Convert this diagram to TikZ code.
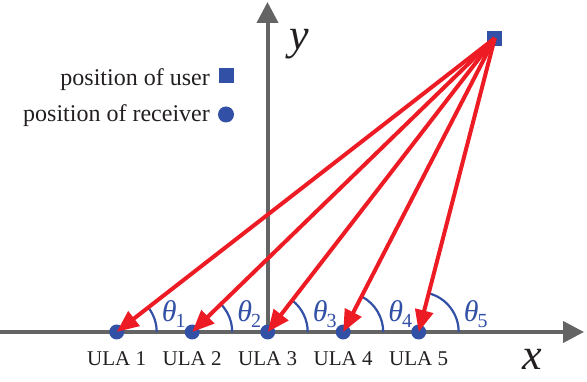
\documentclass[tikz,border=0pt]{standalone}
\usepackage{fontspec}
\setmainfont{Liberation Serif}
\usetikzlibrary{arrows.meta,calc}
\definecolor{ublue}{RGB}{50,80,165}
\definecolor{ured}{RGB}{237,28,36}
\definecolor{agray}{RGB}{100,100,100}
\definecolor{tblack}{RGB}{35,31,32}
\newcommand{\thlab}[1]{\fontsize{30}{30}\selectfont\itshape θ\kern-1pt\raisebox{-6pt}{\fontsize{20}{20}\selectfont\upshape #1}}
\tikzset{
  axis/.style={draw=agray,line width=4pt,-{Triangle[length=21pt,width=21pt]}},
  ray/.style={draw=ured,line width=4pt,-{Triangle[length=22pt,width=18pt]}},
  rcv/.style={circle,fill=ublue,inner sep=0pt,minimum size=15pt},
  usr/.style={rectangle,fill=ublue,inner sep=0pt,minimum size=15pt},
  anglearc/.style={draw=ublue,line width=2.2pt},
  ulalab/.style={anchor=base,text=tblack,font=\fontsize{21}{21}\selectfont,inner sep=0pt},
  leglab/.style={anchor=base east,text=tblack,font=\fontsize{24}{24}\selectfont,inner sep=0pt},
  thnode/.style={anchor=base west,text=ublue,inner sep=0pt},
  axlab/.style={anchor=base,text=tblack,font=\fontsize{44}{44}\selectfont\itshape,inner sep=0pt}
}
\begin{document}
\begin{tikzpicture}[x=1pt,y=1pt]
\useasboundingbox (0,0) rectangle (587,382);
% axes
\coordinate (xs) at (0,50);
\coordinate (xe) at (584,50);
\coordinate (ys) at (267.5,50);
\coordinate (ye) at (267.5,380);
\draw[axis] (xs) -- (xe);
\draw[axis] (ys) -- (ye);
% receivers
\foreach \i/\x in {1/116.7,2/192.2,3/267.7,4/343.2,5/418.7}{
  \node[rcv] (r\i) at (\x,50) {};
  \node[ulalab] (l\i) at (\x,16) {ULA \i};
}
% user
\node[usr] (u) at (494.8,343.8) {};
% angle arcs
\foreach \i/\a in {1/37.85,2/44.16,3/52.30,4/62.71,5/75.48}{
  \draw[anglearc] ($(r\i)+(40,0)$) arc[start angle=0,end angle=\a,radius=40];
  \node[thnode] (t\i) at ($(r\i)+(45,10)$) {\thlab{\i}};
}
% rays
\foreach \i in {1,...,5}{
  \draw[ray] (u.center) -- (r\i.center);
}
% legend
\node[leglab] (lu) at (210,296) {position of user};
\node[leglab] (lr) at (210,260.3) {position of receiver};
\node[usr] (mu) at (226,306) {};
\node[rcv,minimum size=16pt] (mr) at (226,267.5) {};
% axis labels
\node[axlab] (xl) at (532,12) {x};
\node[axlab] (yl) at (299,332) {y};
\end{tikzpicture}
\end{document}
